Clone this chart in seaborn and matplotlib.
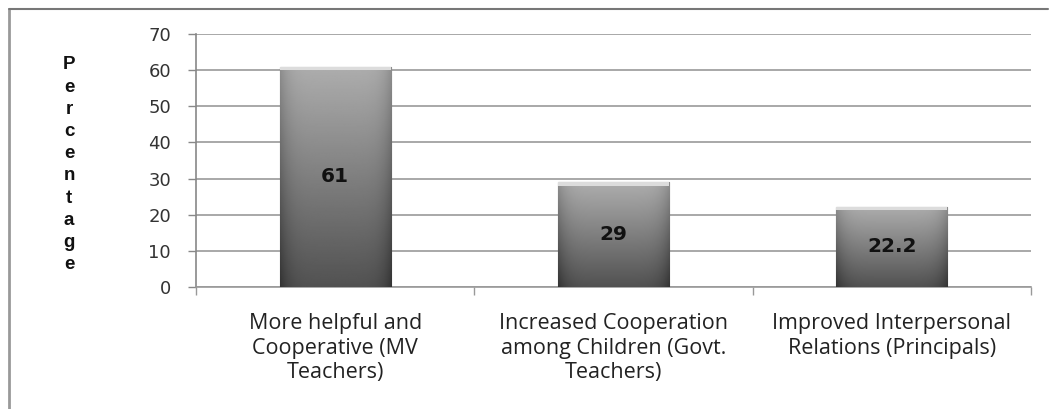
import numpy as np
import pandas as pd
import matplotlib
matplotlib.use("Agg")
import matplotlib.pyplot as plt
import seaborn as sns

sns.set_style("white")

categories = ["More helpful and\nCooperative (MV\nTeachers)",
              "Increased Cooperation\namong Children (Govt.\nTeachers)",
              "Improved Interpersonal\nRelations (Principals)"]
values = [61, 29, 22.2]
value_labels = ["61", "29", "22.2"]
yticks = [0, 10, 20, 30, 40, 50, 60, 70]

df = pd.DataFrame({"cat": categories, "pct": values})

fig = plt.figure(figsize=(10.5, 4.09), dpi=100)
ax = fig.add_axes([0.1867, 0.2983, 0.795, 0.6186])

sns.barplot(data=df, x="cat", y="pct", color="#8a8a8a", width=0.4,
            edgecolor="#555555", linewidth=0.8, ax=ax, zorder=3)

# grey gradient fill on every bar, clipped to the bar
vert = np.linspace(0, 1, 200)[:, None]          # 0 bottom .. 1 top
horiz = np.linspace(-1, 1, 100)[None, :]
shade = 0.32 + 0.36 * vert                       # dark bottom, lighter top
shade = shade - 0.12 * np.abs(horiz) ** 6        # darker side edges
shade = np.clip(shade, 0, 1)
for p in ax.patches:
    x0, w, h = p.get_x(), p.get_width(), p.get_height()
    im = ax.imshow(shade, cmap="gray", vmin=0, vmax=1, origin="lower",
                   extent=[x0, x0 + w, 0, h], aspect="auto", zorder=3.5,
                   interpolation="bilinear")
    im.set_clip_path(p)
    # light bevel at top
    ax.fill_between([x0, x0 + w], h - 1.0, h, color="#dcdcdc", zorder=3.6, lw=0)

for i, (v, lab) in enumerate(zip(values, value_labels)):
    ax.text(i, v / 2, lab, ha="center", va="center", fontsize=14.5,
            fontweight="bold", color="#111111", family="DejaVu Sans", zorder=5)

ax.set_xlim(-0.5, 2.5)
ax.set_ylim(0, 70)
ax.set_yticks(yticks)
ax.yaxis.grid(True, color="#9a9a9a", lw=1.2, zorder=0)
ax.set_axisbelow(True)

for s in ["top", "right"]:
    ax.spines[s].set_visible(False)
ax.spines["left"].set_color("#888888")
ax.spines["bottom"].set_color("#999999")
ax.spines["left"].set_linewidth(1.2)
ax.spines["bottom"].set_linewidth(1.2)

ax.tick_params(axis="y", length=6, width=1, color="#888888", pad=12,
               labelsize=13, labelcolor="#333333", left=True)
ax.set_xticks(range(len(categories)))
ax.set_xticklabels(categories, fontsize=15.5, color="#222222",
                   family="Open Sans", linespacing=1.22)
ax.set_xticks([-0.5, 0.5, 1.5, 2.5], minor=True)
ax.tick_params(axis="x", which="major", length=0, pad=19)
ax.tick_params(axis="x", which="minor", length=6, width=1, color="#999999",
               bottom=True)

ax.set_xlabel("")
ax.set_ylabel("")
fig.text(0.0657, 0.597, "\n".join("Percentage"), ha="center", va="center",
         fontsize=13.5, fontweight="bold", family="Liberation Sans",
         linespacing=1.4, color="#111111")

# chart frame (top and left edges visible)
fig.add_artist(plt.Line2D([0.0086, 0.0086], [0, 0.978], color="#999999", lw=2,
                          transform=fig.transFigure))
fig.add_artist(plt.Line2D([0.0086, 0.998], [0.978, 0.978], color="#777777", lw=1.5,
                          transform=fig.transFigure))

fig.savefig("out.png", dpi=100)
